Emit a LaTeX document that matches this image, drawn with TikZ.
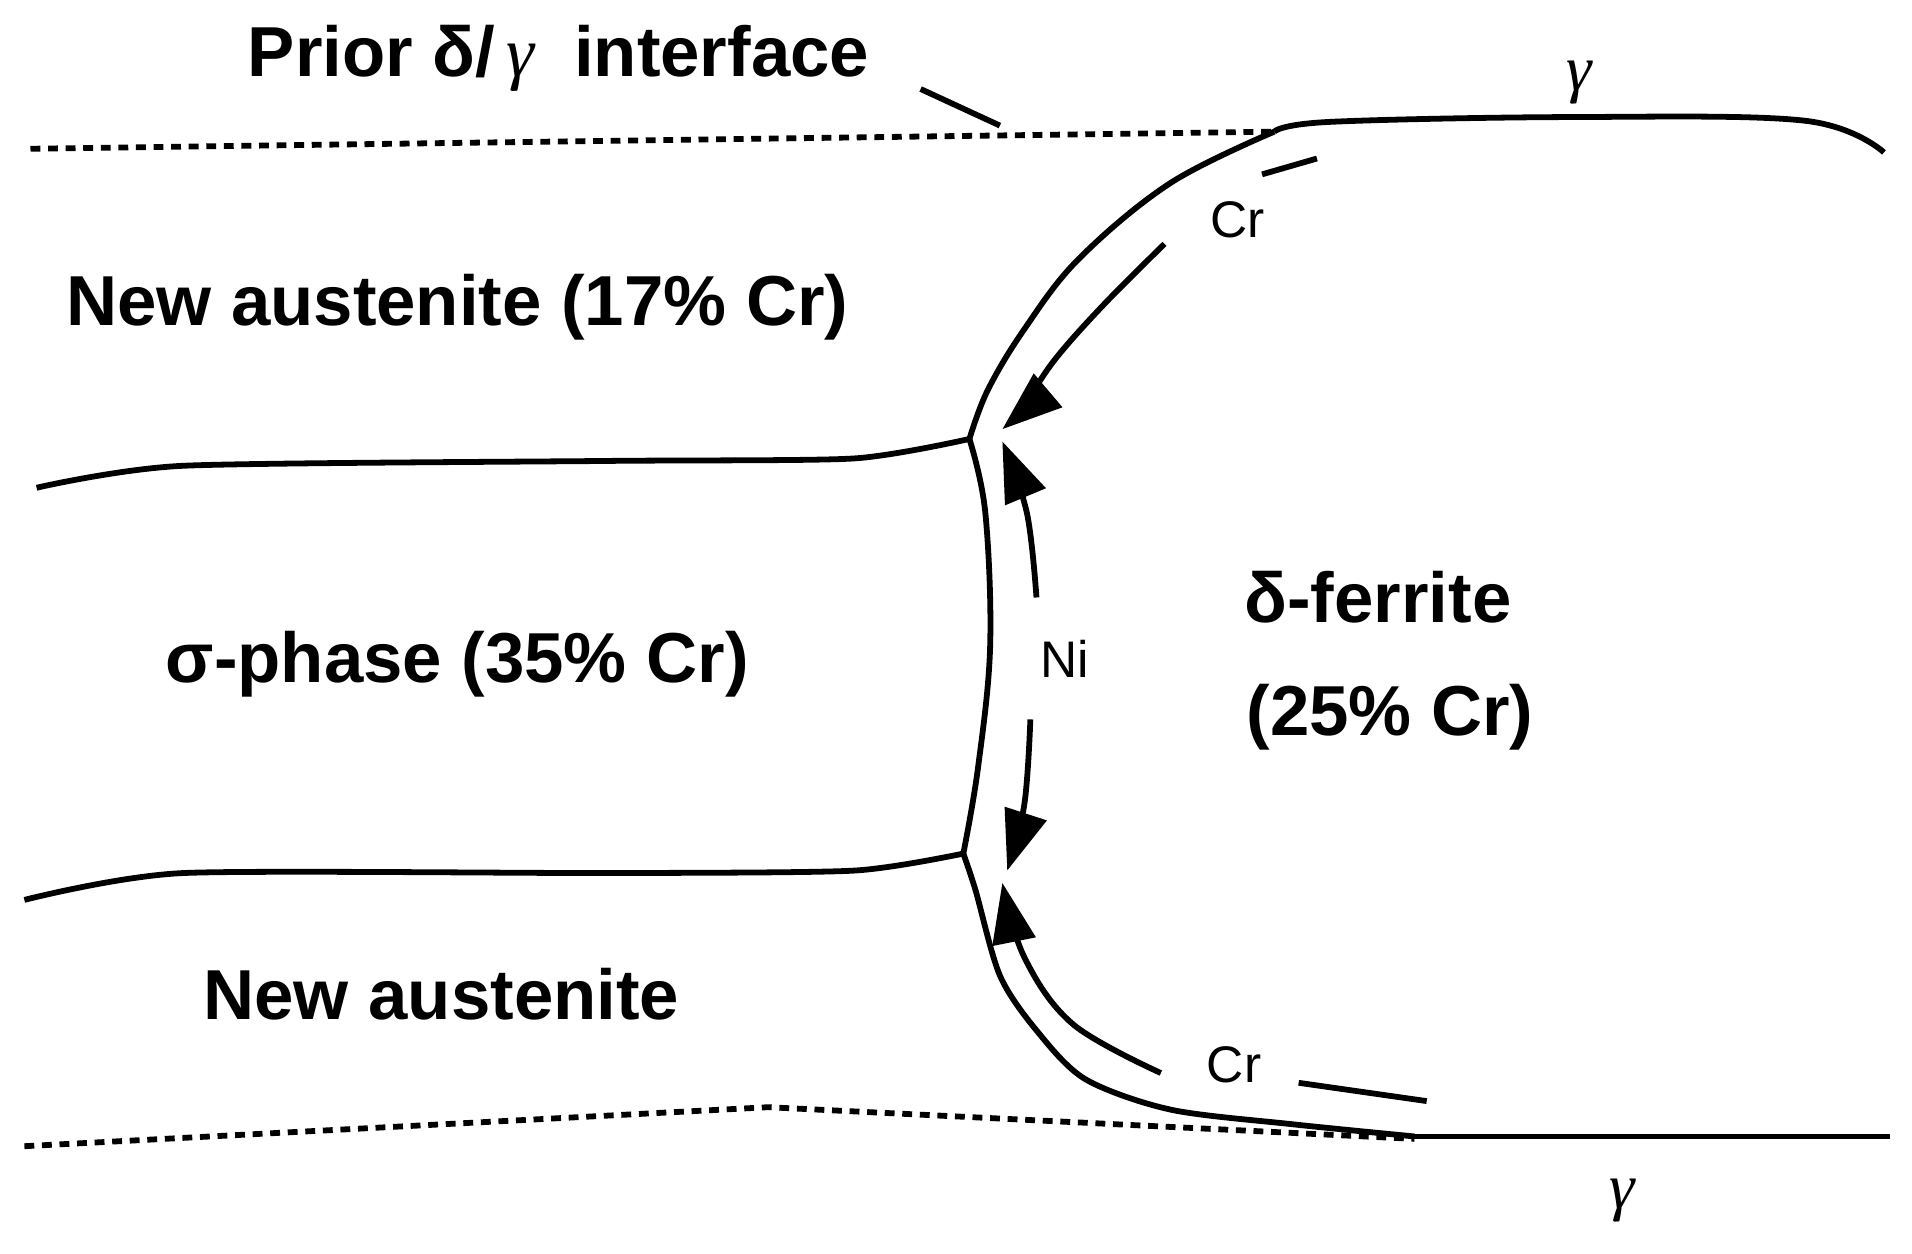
\documentclass[tikz,border=0pt]{standalone}
\usepackage{fontspec}
\setmainfont{Liberation Sans}
\newfontfamily\serif{Liberation Serif}
\usetikzlibrary{arrows.meta}
\tikzset{
  ln/.style={line width=1.35pt, line join=round},
  dsh/.style={line width=1.35pt, dash pattern=on 2.3pt off 1.8pt},
  arr/.style={line width=1.35pt, -{Triangle[length=14pt,width=10pt]}},
  big/.style={font=\fontsize{16.5pt}{18pt}\selectfont\bfseries, inner sep=0pt},
  small/.style={font=\fontsize{12pt}{14pt}\selectfont, inner sep=0pt},
  gam/.style={font=\fontsize{15pt}{16pt}\selectfont\serif\itshape, inner sep=0pt}
}
\begin{document}
\begin{tikzpicture}[x=0.01cm,y=-0.01cm]
\useasboundingbox (0,0) rectangle (1568,1028);
% dashed prior interfaces
\draw[dsh] (25,122) -- (1045,108);
\draw[dsh] (20,940) -- (630,908) -- (1160,934);
% leader
\draw[ln] (755,73) -- (820,103);
% top gamma boundary
\draw[ln] plot[smooth,tension=0.6] coordinates {(1045,108) (1090,100) (1290,96) (1480,99) (1545,125)};
% interface upper
\draw[ln] plot[smooth,tension=0.6] coordinates {(1045,108) (960,150) (885,212) (840,270) (810,320) (795,360)};
% interface middle
\draw[ln] plot[smooth,tension=0.6] coordinates {(795,360) (808,420) (812,530) (802,630) (790,700)};
% interface lower
\draw[ln] plot[smooth,tension=0.5] coordinates {(790,700) (800,730) (820,800) (850,845) (890,885) (960,910) (1060,922) (1160,932)};
\draw[ln] (1160,932) -- (1550,932);
% sigma boundaries
\draw[ln] plot[smooth,tension=0.4] coordinates {(30,400) (150,382) (500,378) (700,376) (795,360)};
\draw[ln] plot[smooth,tension=0.4] coordinates {(20,738) (150,716) (500,716) (700,714) (790,700)};
% arrows
\draw[ln] (1080,130) -- (1035,143);
\draw[arr] plot[smooth,tension=0.6] coordinates {(955,200) (905,250) (865,295) (838,335) (822,352)};
\draw[arr] plot[smooth,tension=0.6] coordinates {(850,490) (842,420) (822,362)};
\draw[arr] plot[smooth,tension=0.6] coordinates {(845,590) (840,660) (826,714)};
\draw[arr] plot[smooth,tension=0.6] coordinates {(952,880) (880,840) (840,785) (822,724)};
\draw[ln] (1065,888) -- (1170,903);
% labels
\node[big] (prior) at (458,48) {Prior δ/\,{\serif\itshape\mdseries γ}\ \ interface};
\node[gam] (g1) at (1295,68) {γ};
\node[gam] (g2) at (1330,985) {γ};
\node[small] (cr1) at (1015,180) {Cr};
\node[small] (cr2) at (1012,873) {Cr};
\node[small] (ni) at (873,540) {Ni};
\node[big] (na1) at (375,252) {New austenite (17\% Cr)};
\node[big] (sig) at (375,545) {σ-phase (35\% Cr)};
\node[big] (del) at (1130,490) {δ-ferrite};
\node[big] (del2) at (1140,588) {(25\% Cr)};
\node[big] (na2) at (362,815) {New austenite};
\end{tikzpicture}
\end{document}
